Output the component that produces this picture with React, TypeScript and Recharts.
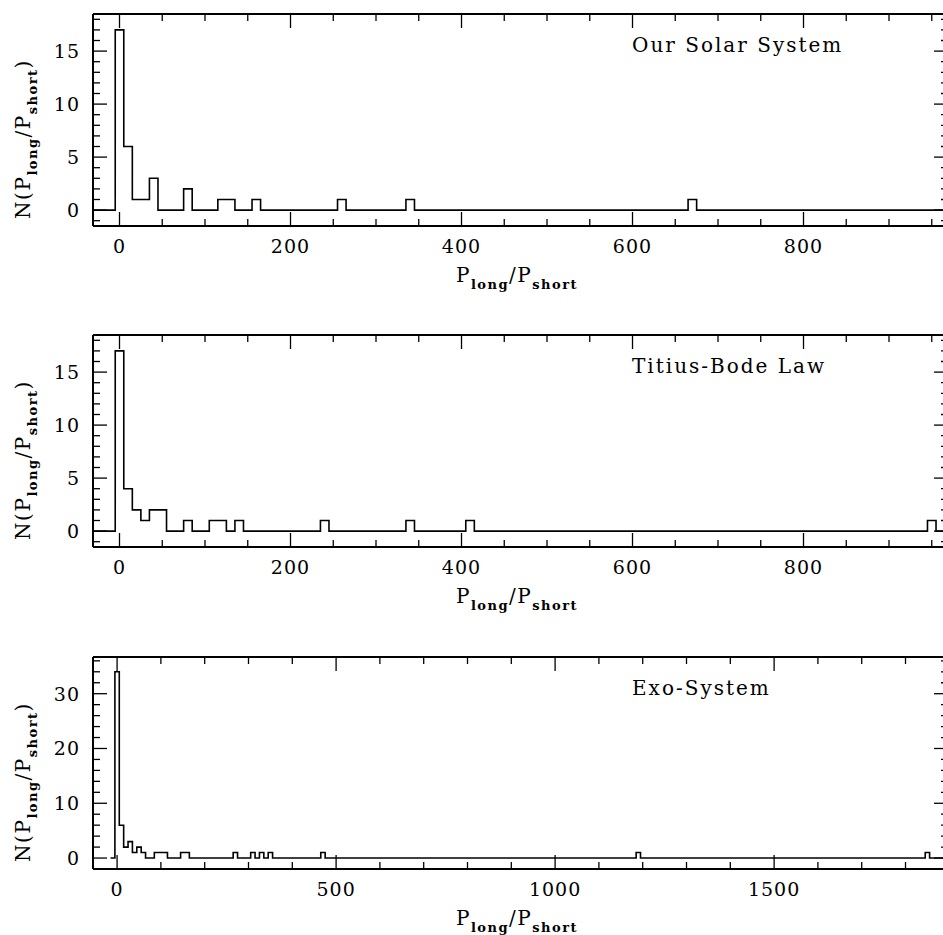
import { LineChart, Line, XAxis, YAxis } from "recharts";

const BIN = 10;

// non-empty bins (bin centre) and their counts
const solarBins = [0, 10, 20, 30, 40, 80, 120, 130, 160, 260, 340, 670];
const solarCounts = [17, 6, 1, 1, 3, 2, 1, 1, 1, 1, 1, 1];

const bodeBins = [0, 10, 20, 30, 40, 50, 80, 110, 120, 140, 240, 340, 410, 950];
const bodeCounts = [17, 4, 2, 1, 2, 2, 1, 1, 1, 1, 1, 1, 1, 1];

const exoBins = [0, 10, 20, 30, 40, 50, 60, 90, 100, 110, 150, 160, 270, 310, 330, 350, 470, 1190, 1850];
const exoCounts = [34, 6, 2, 3, 1, 2, 1, 1, 1, 1, 1, 1, 1, 1, 1, 1, 1, 1, 1];

const xMajorShort = [0, 200, 400, 600, 800];
const xMajorLong = [0, 500, 1000, 1500];
const yMajorSmall = [0, 5, 10, 15];
const yMajorBig = [0, 10, 20, 30];

const FONT = "'DejaVu Serif', serif";
const W = 960;
const H = 300;
const PL = 93;
const PR = 948;
const PT = 14;
const PH = 212;

function steps(from: number, to: number, step: number) {
  const out: number[] = [];
  for (let v = from; v <= to; v += step) out.push(v);
  return out;
}

// step table: one row per bin left edge, plus the closing right edge
function histo(centers: number[], counts: number[], first: number, last: number) {
  const rows: { x: number; n: number }[] = [];
  for (let c = first; c <= last; c += BIN) {
    const i = centers.indexOf(c);
    rows.push({ x: c - BIN / 2, n: i >= 0 ? counts[i] : 0 });
  }
  rows.push({ x: last + BIN / 2, n: rows[rows.length - 1].n });
  return rows;
}

const solarData = histo(solarBins, solarCounts, -30, 970);
const bodeData = histo(bodeBins, bodeCounts, -30, 970);
const exoData = histo(exoBins, exoCounts, -10, 1900);

const axisLine = { stroke: "#000", strokeWidth: 2 };

const xTick = (side: "top" | "bottom", majors: number[]) => (props: any) => {
  const { x, y, payload } = props;
  const major = majors.includes(payload.value);
  const len = major ? 14 : 7;
  const dir = side === "bottom" ? -1 : 1;
  return (
    <g>
      <line x1={x} y1={y} x2={x} y2={y + dir * len} stroke="#000" strokeWidth={1.3} />
      {side === "bottom" && major && (
        <text x={x} y={y + 27} textAnchor="middle" fontFamily={FONT} fontSize={19} letterSpacing={1} fill="#000">
          {payload.value}
        </text>
      )}
    </g>
  );
};

const yTick = (side: "left" | "right", majors: number[]) => (props: any) => {
  const { x, y, payload } = props;
  const major = majors.includes(payload.value);
  const len = major ? 14 : 7;
  const dir = side === "left" ? 1 : -1;
  return (
    <g>
      <line x1={x} y1={y} x2={x + dir * len} y2={y} stroke="#000" strokeWidth={1.3} />
      {side === "left" && major && (
        <text x={x - 13} y={y + 7} textAnchor="end" fontFamily={FONT} fontSize={19} letterSpacing={1} fill="#000">
          {payload.value}
        </text>
      )}
    </g>
  );
};

const ratioParts = (sub: number) => [
  <tspan key="a">P</tspan>,
  <tspan key="b" dy={sub} fontSize={13} fontWeight="bold">long</tspan>,
  <tspan key="c" dy={-sub}>/P</tspan>,
  <tspan key="d" dy={sub} fontSize={13} fontWeight="bold">short</tspan>,
];

const xLabel = (props: any) => {
  const vb = props.viewBox;
  return (
    <text x={vb.x + 424} y={vb.y + 56} textAnchor="middle" fontFamily={FONT} fontSize={20} letterSpacing={1.5} fill="#000">
      {ratioParts(7)}
    </text>
  );
};

const yLabel = (props: any) => {
  const vb = props.viewBox;
  const cx = 30;
  const cy = vb.y + 125;
  return (
    <text x={cx} y={cy} transform={`rotate(-90, ${cx}, ${cy})`} textAnchor="middle" fontFamily={FONT} fontSize={20} letterSpacing={1.5} fill="#000">
      <tspan>N(</tspan>
      {ratioParts(7)}
      <tspan dy={-7}>)</tspan>
    </text>
  );
};

const titleLabel = (title: string) => (props: any) => {
  const vb = props.viewBox;
  return (
    <text x={632} y={vb.y + 39} fontFamily={FONT} fontSize={20} letterSpacing={2} fill="#000">
      {title}
    </text>
  );
};

type PanelProps = {
  top: number;
  title: string;
  data: { x: number; n: number }[];
  xDomain: [number, number];
  xMajor: number[];
  xMinor: number[];
  yDomain: [number, number];
  yMajor: number[];
  yMinor: number[];
};

function Panel(p: PanelProps) {
  const xTicks = Array.from(new Set([...p.xMinor, ...p.xMajor])).sort((a, b) => a - b);
  const yTicks = Array.from(new Set([...p.yMinor, ...p.yMajor])).sort((a, b) => a - b);
  return (
    <div style={{ position: "absolute", left: 0, top: p.top }}>
      <LineChart
        width={W}
        height={H}
        data={p.data}
        margin={{ top: PT - 1, left: PL - 1, right: W - PR - 1, bottom: H - PT - PH - 1 }}
      >
        <XAxis xAxisId="b" orientation="bottom" type="number" dataKey="x" domain={p.xDomain} allowDataOverflow
          ticks={xTicks} interval={0} tickSize={0} tickMargin={0} tickLine={false} height={1}
          axisLine={axisLine} tick={xTick("bottom", p.xMajor)} label={xLabel} />
        <XAxis xAxisId="t" orientation="top" type="number" dataKey="x" domain={p.xDomain} allowDataOverflow
          ticks={xTicks} interval={0} tickSize={0} tickMargin={0} tickLine={false} height={1}
          axisLine={axisLine} tick={xTick("top", p.xMajor)} label={titleLabel(p.title)} />
        <YAxis yAxisId="l" orientation="left" type="number" domain={p.yDomain} allowDataOverflow
          ticks={yTicks} interval={0} tickSize={0} tickMargin={0} tickLine={false} width={1}
          axisLine={axisLine} tick={yTick("left", p.yMajor)} label={yLabel} />
        <YAxis yAxisId="r" orientation="right" type="number" domain={p.yDomain} allowDataOverflow
          ticks={yTicks} interval={0} tickSize={0} tickMargin={0} tickLine={false} width={1}
          axisLine={axisLine} tick={yTick("right", p.yMajor)} />
        <Line xAxisId="b" yAxisId="l" type="stepAfter" dataKey="n" stroke="#000" strokeWidth={1.6}
          dot={false} activeDot={false} isAnimationActive={false} />
      </LineChart>
    </div>
  );
}

export default function App() {
  return (
    <div style={{ position: "absolute", left: 0, top: 0, width: 943, height: 935, overflow: "hidden", background: "#fff" }}>
      <Panel top={0} title="Our Solar System" data={solarData} xDomain={[-31, 969]}
        xMajor={xMajorShort} xMinor={steps(0, 950, 50)} yDomain={[-1.5, 18.5]}
        yMajor={yMajorSmall} yMinor={steps(-1, 18, 1)} />
      <Panel top={321} title="Titius-Bode Law" data={bodeData} xDomain={[-31, 969]}
        xMajor={xMajorShort} xMinor={steps(0, 950, 50)} yDomain={[-1.5, 18.5]}
        yMajor={yMajorSmall} yMinor={steps(-1, 18, 1)} />
      <Panel top={643} title="Exo-System" data={exoData} xDomain={[-55, 1897]}
        xMajor={xMajorLong} xMinor={steps(0, 1800, 100)} yDomain={[-2, 36.7]}
        yMajor={yMajorBig} yMinor={steps(0, 36, 2)} />
    </div>
  );
}
